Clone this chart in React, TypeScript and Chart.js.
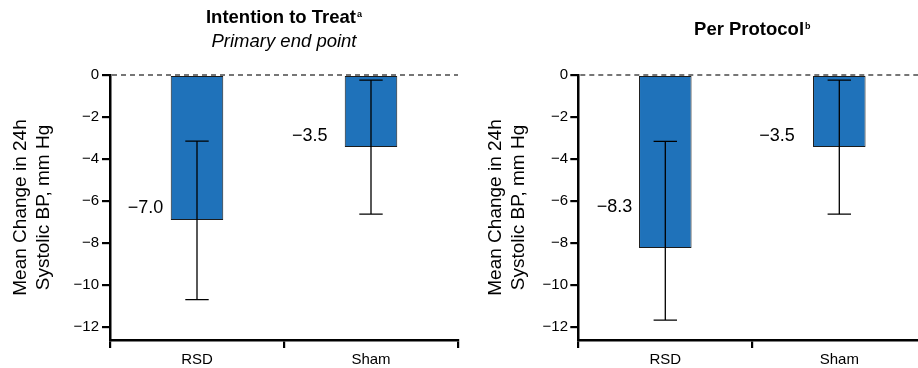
import React, { useEffect, useRef } from 'react';
import { Chart, registerables } from 'chart.js';

Chart.register(...registerables);

const FONT = '"Liberation Sans", Arial, Helvetica, sans-serif';

// ---- data ----
const CATEGORIES = ['RSD', 'Sham'];
const Y_TICKS = [0, -2, -4, -6, -8, -10, -12];
const Y_MIN = -12.62;
const Y_MAX = 0;
const Y_TITLE = ['Mean Change in 24h', 'Systolic BP, mm Hg'];

const ITT_MEAN = [-6.9, -3.43];
const ITT_LOW = [-10.7, -6.63];
const ITT_HIGH = [-3.15, -0.24];
const ITT_LABELS = ['\u22127.0', '\u22123.5'];
const ITT_LABEL_AT = [-6.33, -2.9];

const PP_MEAN = [-8.24, -3.43];
const PP_LOW = [-11.67, -6.63];
const PP_HIGH = [-3.16, -0.24];
const PP_LABELS = ['\u22128.3', '\u22123.5'];
const PP_LABEL_AT = [-6.3, -2.9];

type Panel = {
  title: string;
  sup: string;
  subtitle: string | null;
  mean: number[];
  low: number[];
  high: number[];
  labels: string[];
  labelAt: number[];
  labelGap: number[];
  x: number;
  width: number;
  padRight: number;
  axisWidth: number;
  yTitlePad: number;
  tickPad: number;
  titleBaseline: number;
  subtitleBaseline: number;
};

const PANELS: Panel[] = [
  {
    title: 'Intention to Treat',
    sup: 'a',
    subtitle: 'Primary end point',
    mean: ITT_MEAN,
    low: ITT_LOW,
    high: ITT_HIGH,
    labels: ITT_LABELS,
    labelAt: ITT_LABEL_AT,
    labelGap: [7.4, 17.3],
    x: 0,
    width: 460,
    padRight: 2,
    axisWidth: 110,
    yTitlePad: 9,
    tickPad: 3,
    titleBaseline: 23.3,
    subtitleBaseline: 46.7,
  },
  {
    title: 'Per Protocol',
    sup: 'b',
    subtitle: null,
    mean: PP_MEAN,
    low: PP_LOW,
    high: PP_HIGH,
    labels: PP_LABELS,
    labelAt: PP_LABEL_AT,
    labelGap: [6.7, 18.3],
    x: 459,
    width: 470,
    padRight: 2.7,
    axisWidth: 119.3,
    yTitlePad: 25.5,
    tickPad: 2.3,
    titleBaseline: 35,
    subtitleBaseline: 0,
  },
];

function ChartPanel({ p }: { p: Panel }) {
  const ref = useRef<HTMLCanvasElement | null>(null);

  useEffect(() => {
    if (!ref.current) return;

    const zeroLine = {
      id: 'zeroLine',
      beforeDatasetsDraw(chart: any) {
        const { ctx, chartArea, scales } = chart;
        const y0 = scales.y.getPixelForValue(0);
        ctx.save();
        ctx.strokeStyle = '#4a4a4a';
        ctx.lineWidth = 1.4;
        ctx.setLineDash([5, 4]);
        ctx.beginPath();
        ctx.moveTo(chartArea.left + 2, y0);
        ctx.lineTo(chartArea.right, y0);
        ctx.stroke();
        ctx.restore();
      },
    };

    const errorBars = {
      id: 'errorBars',
      afterDatasetsDraw(chart: any) {
        const { ctx, scales } = chart;
        const meta = chart.getDatasetMeta(0);
        ctx.save();
        ctx.strokeStyle = '#000';
        ctx.lineWidth = 1.3;
        meta.data.forEach((bar: any, i: number) => {
          const x = bar.x;
          const yl = scales.y.getPixelForValue(p.low[i]);
          const yh = scales.y.getPixelForValue(p.high[i]);
          const cap = 11.7;
          ctx.beginPath();
          ctx.moveTo(x, yh);
          ctx.lineTo(x, yl);
          ctx.moveTo(x - cap, yh);
          ctx.lineTo(x + cap, yh);
          ctx.moveTo(x - cap, yl);
          ctx.lineTo(x + cap, yl);
          ctx.stroke();
        });
        // value labels
        ctx.fillStyle = '#000';
        ctx.font = `18px ${FONT}`;
        ctx.textAlign = 'right';
        ctx.textBaseline = 'middle';
        meta.data.forEach((bar: any, i: number) => {
          const left = bar.x - bar.width / 2;
          const y = scales.y.getPixelForValue(p.labelAt[i]);
          ctx.fillText(p.labels[i], left - p.labelGap[i], y);
        });
        // titles
        const cx = (chart.chartArea.left + chart.chartArea.right) / 2;
        ctx.textBaseline = 'alphabetic';
        ctx.textAlign = 'left';
        const mainFont = `700 18.5px ${FONT}`;
        const supFont = `700 9px ${FONT}`;
        ctx.font = mainFont;
        const w1 = ctx.measureText(p.title).width;
        ctx.font = supFont;
        const w2 = ctx.measureText(p.sup).width;
        const start = cx - (w1 + w2 + 1) / 2;
        ctx.font = mainFont;
        ctx.fillText(p.title, start, p.titleBaseline);
        ctx.font = supFont;
        ctx.fillText(p.sup, start + w1 + 1, p.titleBaseline - 6.3);
        if (p.subtitle) {
          ctx.font = `italic 18.5px ${FONT}`;
          ctx.textAlign = 'center';
          ctx.fillText(p.subtitle, cx, p.subtitleBaseline);
        }
        ctx.restore();
      },
    };

    const chart = new Chart(ref.current, {
      type: 'bar',
      data: {
        labels: CATEGORIES,
        datasets: [
          {
            data: p.mean,
            backgroundColor: '#1f72ba',
            borderColor: '#1c1c1c',
            borderWidth: 1,
            borderSkipped: false,
            barPercentage: 0.302,
            categoryPercentage: 1,
          },
        ],
      },
      options: {
        animation: false,
        responsive: false,
        maintainAspectRatio: false,
        layout: { padding: { top: 75, left: 0, right: p.padRight, bottom: 0 } },
        plugins: {
          legend: { display: false },
          title: { display: false },
          tooltip: { enabled: false },
        },
        scales: {
          x: {
            type: 'category',
            offset: true,
            grid: {
              offset: true,
              drawOnChartArea: false,
              drawTicks: true,
              tickLength: 8,
              color: '#000',
              lineWidth: 2.2,
            },
            border: { display: true, color: '#000', width: 2.5 },
            ticks: { color: '#000', padding: 3, font: { family: FONT, size: 15 } },
            afterFit(scale: any) {
              scale.height = 28;
            },
          },
          y: {
            type: 'linear',
            min: Y_MIN,
            max: Y_MAX,
            afterBuildTicks(scale: any) {
              scale.ticks = Y_TICKS.map((v) => ({ value: v }));
            },
            afterFit(scale: any) {
              scale.width = p.axisWidth;
            },
            grid: {
              drawOnChartArea: false,
              drawTicks: true,
              tickLength: 8,
              color: '#000',
              lineWidth: 2.2,
            },
            border: { display: true, color: '#000', width: 2.5 },
            ticks: {
              color: '#000',
              padding: p.tickPad,
              font: { family: FONT, size: 15 },
              callback: (v: any) => (Number(v) === 0 ? '0' : '\u2212' + Math.abs(Number(v))),
            },
            title: {
              display: true,
              text: Y_TITLE,
              color: '#000',
              font: { family: FONT, size: 19, lineHeight: 23 / 19 },
              padding: { top: p.yTitlePad, bottom: 0 },
            },
          },
        },
      },
      plugins: [zeroLine, errorBars],
    });

    return () => chart.destroy();
  }, [p]);

  return (
    <div style={{ position: 'absolute', left: p.x, top: 0, width: p.width, height: 368 }}>
      <canvas ref={ref} width={p.width} height={368} style={{ width: p.width, height: 368, display: 'block' }} />
    </div>
  );
}

export default function App() {
  return (
    <div
      style={{
        position: 'fixed',
        left: 0,
        top: 0,
        width: 918,
        height: 368,
        overflow: 'hidden',
        background: '#fff',
      }}
    >
      {PANELS.map((p, i) => (
        <ChartPanel key={i} p={p} />
      ))}
    </div>
  );
}
